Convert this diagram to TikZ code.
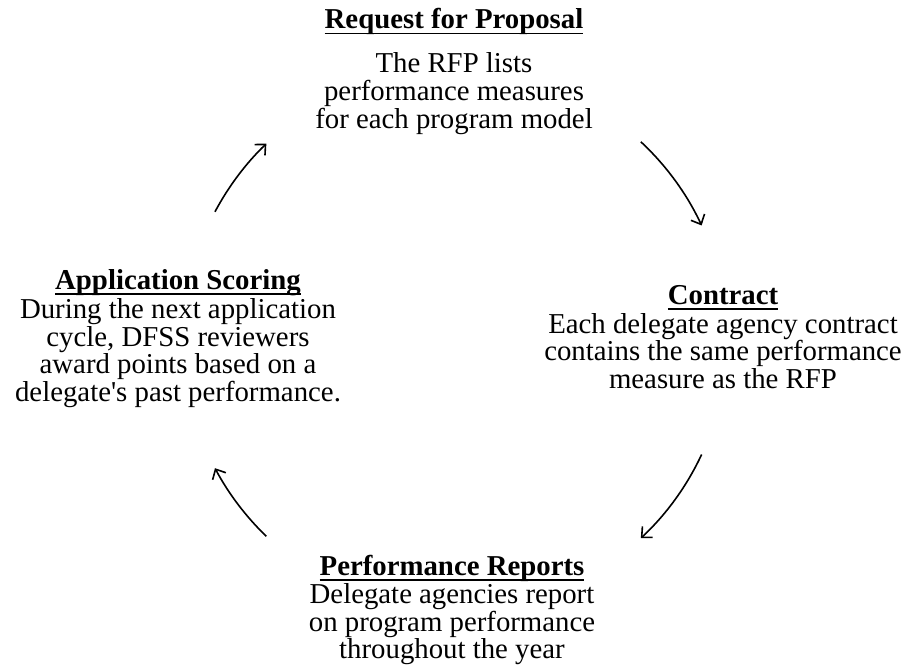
\documentclass[tikz,border=0pt]{standalone}
\usepackage{fontspec}
\setmainfont{Liberation Serif}[Ligatures=TeXOff]
\usetikzlibrary{arrows.meta,calc}
\newcommand{\myul}[1]{\setbox0\hbox{\textbf{#1}}\rlap{\rule[-5.5pt]{\wd0}{1.9pt}}\box0}
\tikzset{
  blocktext/.style={align=center, anchor=north, inner sep=0pt,
    font=\fontsize{28.8}{27.6}\selectfont},
  cyclearrow/.style={line width=1.6pt, -{Straight Barb[length=8pt,width=15pt,line width=1.6pt]}}
}
\begin{document}
\begin{tikzpicture}[x=1pt,y=1pt]
\useasboundingbox (0,0) rectangle (911,668);
\coordinate (c) at (456,328);
\node[blocktext] (rfp) at (454,659.5) {\myul{Request for Proposal}\\[16.4pt]
  The RFP lists\\performance measures\\for each program model};
\node[blocktext] (contract) at (723,383) {\myul{Contract}\\[1.4pt]
  Each delegate agency contract\\contains the same performance\\measure as the RFP};
\node[blocktext] (reports) at (452,113) {\myul{Performance Reports}\\[0.4pt]
  Delegate agencies report\\on program performance\\throughout the year};
\node[blocktext] (scoring) at (178,398.5) {\myul{Application Scoring}\\[1.4pt]
  During the next application\\cycle, DFSS reviewers\\award points based on a\\delegate's past performance.};
\coordinate (a1s) at ($(c)+(152:273)$);
\coordinate (a2s) at ($(c)+(47:271)$);
\coordinate (a3s) at ($(c)+(-25:271)$);
\coordinate (a4s) at ($(c)+(-134:273)$);
\draw[cyclearrow] (a1s) arc[start angle=152, end angle=134, radius=273];
\draw[cyclearrow] (a2s) arc[start angle=47, end angle=25, radius=271];
\draw[cyclearrow] (a3s) arc[start angle=-25, end angle=-47, radius=271];
\draw[cyclearrow] (a4s) arc[start angle=-134, end angle=-152, radius=273];
\end{tikzpicture}
\end{document}
